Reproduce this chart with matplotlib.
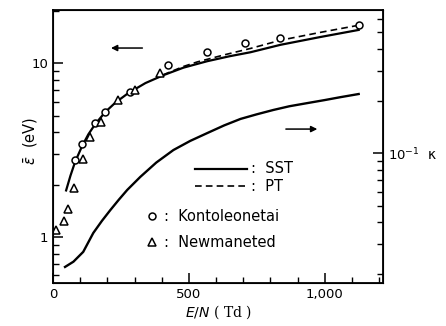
import numpy as np
import matplotlib
matplotlib.use('Agg')
import matplotlib.pyplot as plt
from matplotlib.ticker import FixedLocator, NullFormatter, LogLocator

# mean energy, SST (left axis)
sst_en = [48, 64, 81, 107, 130, 155, 192, 230, 277, 340, 406, 480, 568, 650, 727, 837, 984, 1125]
sst_eps = [1.85, 2.25, 2.70, 3.34, 3.90, 4.46, 5.24, 5.95, 6.74, 7.70, 8.55, 9.45, 10.3,
           11.0, 11.6, 12.8, 14.2, 15.6]
# mean energy, PT (left axis)
pt_en = [406, 480, 531, 630, 727, 837, 984, 1125]
pt_eps = [8.6, 9.6, 10.2, 11.2, 12.2, 13.6, 15.1, 16.6]
# kappa, SST (right axis)
k_en = [44, 75, 111, 148, 180, 211, 242, 273, 321, 380, 443, 505, 568, 630, 690, 750,
        811, 870, 936, 1000, 1058, 1125]
k_val = [0.0221, 0.0237, 0.0270, 0.0347, 0.0408, 0.0471, 0.0540, 0.0615, 0.0731, 0.0885,
         0.1045, 0.118, 0.131, 0.145, 0.158, 0.168, 0.178, 0.187, 0.195, 0.203, 0.211, 0.220]
# Kontoleon et al.
kon_en = [81, 107, 155, 192, 284, 424, 568, 705, 834, 1128]
kon_eps = [2.77, 3.42, 4.53, 5.24, 6.83, 9.78, 11.6, 13.1, 14.0, 16.6]
# Newman et al.
new_en = [11, 41, 56, 78, 111, 137, 177, 240, 303, 395]
new_eps = [1.09, 1.23, 1.44, 1.91, 2.81, 3.76, 4.59, 6.14, 7.02, 8.79]

fig = plt.figure(figsize=(4.46, 3.26), dpi=100)
ax = fig.add_axes([0.119, 0.132, 0.740, 0.837])
ax2 = ax.twinx()

ax.plot(sst_en, sst_eps, color='black', lw=1.6)
ax.plot(pt_en, pt_eps, color='black', lw=1.2, ls=(0, (4, 2.5)))
ax2.plot(k_en, k_val, color='black', lw=1.7)
ax.plot(kon_en, kon_eps, ls='none', marker='o', ms=5, mfc='white', mec='black', mew=1.1)
ax.plot(new_en, new_eps, ls='none', marker='^', ms=5.5, mfc='white', mec='black', mew=1.1)

ax.set_xlim(0, 1215)
ax.set_yscale('log')
ax.set_ylim(0.541, 20.3)
ax2.set_yscale('log')
ax2.set_ylim(0.01786, 0.671)

ax.xaxis.set_major_locator(FixedLocator([0, 500, 1000]))
ax.xaxis.set_minor_locator(FixedLocator(np.arange(100, 1250, 100)))
ax.set_xticklabels(['0', '500', '1,000'])
ax.yaxis.set_major_locator(FixedLocator([1, 10]))
ax.set_yticklabels(['1', '10'])
ax.yaxis.set_minor_locator(LogLocator(base=10, subs=np.arange(2, 10)))
ax.yaxis.set_minor_formatter(NullFormatter())
ax2.yaxis.set_major_locator(FixedLocator([0.1]))
ax2.set_yticklabels(['$10^{-1}$'])
ax2.yaxis.set_minor_locator(LogLocator(base=10, subs=np.arange(2, 10)))
ax2.yaxis.set_minor_formatter(NullFormatter())

for a in (ax, ax2):
    a.tick_params(which='major', direction='in', length=7, width=1.1, labelsize=9.5)
    a.tick_params(which='minor', direction='in', length=4, width=1.0)
ax.tick_params(axis='y', which='both', right=False)
for s in ax.spines.values():
    s.set_linewidth(1.3)

ax.set_ylabel(r'$\bar{\epsilon}$  (eV)', fontsize=10.5)
ax.yaxis.set_label_coords(-0.04, 0.52)
ax.set_xlabel(r'$E/N$ ( Td )', fontsize=10, labelpad=2,
              family='DejaVu Serif')
ax2.text(1.135, 0.47, 'κ', transform=ax.transAxes, fontsize=10, va='center')

# arrows
ax.annotate('', xy=(0.167, 0.861), xytext=(0.279, 0.861), xycoords='axes fraction',
            arrowprops=dict(arrowstyle='-|>', color='black', lw=1.1, mutation_scale=9))
ax.annotate('', xy=(0.809, 0.564), xytext=(0.697, 0.564), xycoords='axes fraction',
            arrowprops=dict(arrowstyle='-|>', color='black', lw=1.1, mutation_scale=9))

# legend drawn by hand
tr = ax.transAxes
ax.plot([0.430, 0.588], [0.418, 0.418], color='black', lw=1.6, transform=tr)
ax.plot([0.430, 0.588], [0.355, 0.355], color='black', lw=1.2, ls=(0, (4, 2.5)), transform=tr)
ax.text(0.60, 0.418, ':  SST', transform=tr, fontsize=10.5, va='center')
ax.text(0.60, 0.355, ':  PT', transform=tr, fontsize=10.5, va='center')
ax.plot([0.30], [0.245], ls='none', marker='o', ms=5, mfc='white', mec='black', mew=1.1, transform=tr)
ax.plot([0.30], [0.150], ls='none', marker='^', ms=5.5, mfc='white', mec='black', mew=1.1, transform=tr)
ax.text(0.335, 0.245, ':  Kontoleonetai', transform=tr, fontsize=10.5, va='center')
ax.text(0.335, 0.150, ':  Newmaneted', transform=tr, fontsize=10.5, va='center')

fig.savefig('out.png', dpi=100)
